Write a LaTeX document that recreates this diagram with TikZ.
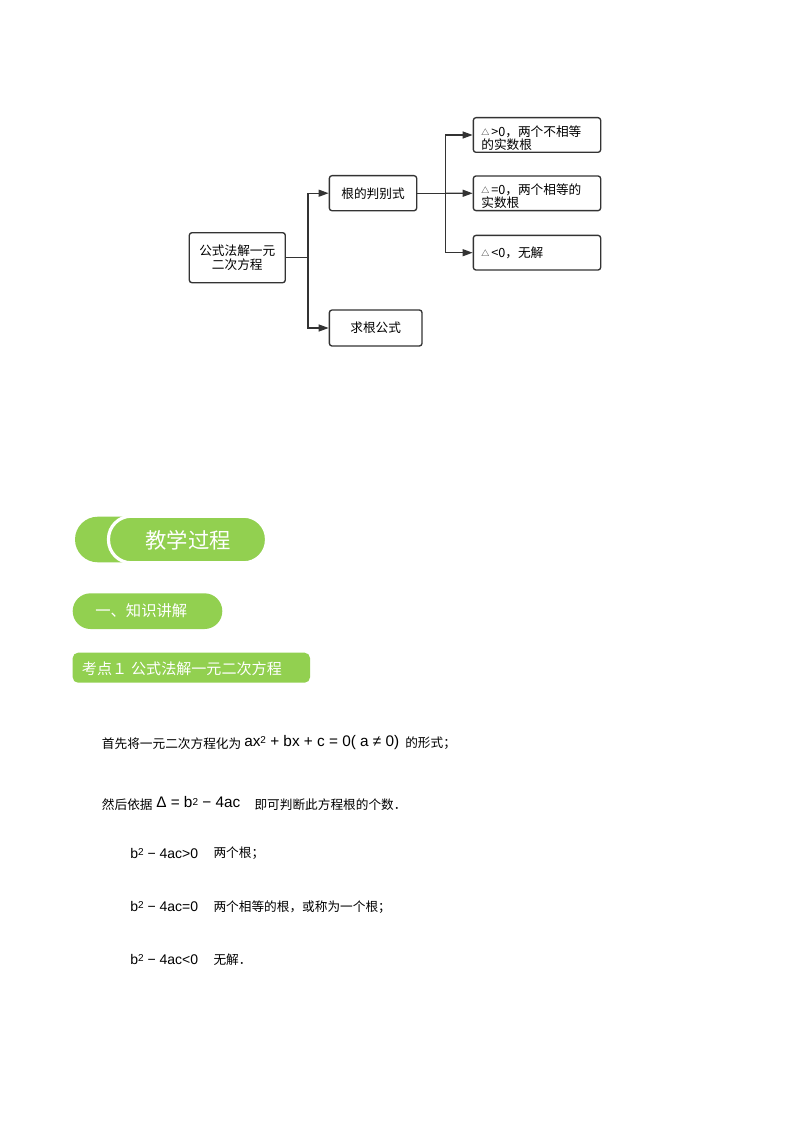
\documentclass[tikz,border=0pt]{standalone}
\usepackage{fontspec}
\setmainfont{Noto Sans CJK SC}
\newfontfamily\cjk{Noto Sans CJK SC}
\newfontfamily\lat{Liberation Sans}
\usetikzlibrary{arrows.meta,calc}
\definecolor{grn}{HTML}{92D050}
\definecolor{edge}{HTML}{333333}
\newcommand\tri{{\fontsize{6}{6}\selectfont\raisebox{0.8pt}{△}}\hspace{1.5pt}}
\newcommand\sq{\raisebox{2.2pt}{\fontsize{7.5}{8}\selectfont 2}}
\tikzset{
  box/.style={draw=edge,line width=1pt,rounded corners=2pt,fill=white,inner sep=0pt,
    font=\cjk\fontsize{9.5}{11}\selectfont,align=center},
  dbox/.style={box,text width=83.5pt,inner xsep=6pt,align=left,minimum width=95.5pt,minimum height=26pt,
    font=\cjk\fontsize{9.5}{10}\selectfont},
  conn/.style={draw=edge,line width=1pt,-{Triangle[length=7.5pt,width=5.2pt]}},
  line/.style={draw=edge,line width=1pt},
  body/.style={anchor=west,inner sep=0pt,font=\cjk\fontsize{9.5}{11}\selectfont},
  mth/.style={anchor=west,inner sep=0pt,font=\lat\fontsize{10.5}{11}\selectfont},
  pilltxt/.style={text=white,inner sep=0pt}
}
\begin{document}
\begin{tikzpicture}[x=0.75pt,y=-0.75pt]
\useasboundingbox (0,0) rectangle (794,1123);
\fill[white] (0,0) rectangle (794,1123);

% flowchart
\node[box,minimum width=72pt,minimum height=37.5pt] (root) at (237.3,257.7) {公式法解一元\\二次方程};
\node[box,minimum width=65.5pt,minimum height=26.3pt] (pb) at (373,193.2) {根的判别式};
\node[box,minimum width=69.5pt,minimum height=27pt] (qg) at (375.7,328) {求根公式};
\node[dbox] (d1) at (537,135) {\rule{0pt}{12.5pt}\tri{}>0，两个不相等\\的实数根};
\node[dbox] (d2) at (537,193.3) {\rule{0pt}{12.5pt}\tri{}=0，两个相等的\\实数根};
\node[dbox] (d3) at (537,252.7) {\tri{}<0，无解};

\coordinate (j1) at ($(root.east)+(22,0)$);
\coordinate (j2) at ($(pb.east)+(28.3,0)$);
\draw[line] (root.east) -- (j1);
\draw[conn] (j1) |- (pb.west);
\draw[conn] (j1) |- (qg.west);
\draw[line] (pb.east) -- (j2);
\draw[conn] (j2) |- (d1.west);
\draw[conn] (j2) -- (d2.west);
\draw[conn] (j2) |- (d3.west);

% teaching process pills
\fill[grn,rounded corners=22.8*0.75pt] (75,516.7) rectangle (150,562.3);
\draw[white,line width=2.4pt,fill=grn,rounded corners=22.8*0.75pt] (108.5,516.2) rectangle (266.5,562.8);
\node[pilltxt,font=\cjk\fontsize{16}{18}\selectfont] (jx) at (188.3,540) {教学过程};

\fill[grn,rounded corners=17.8*0.75pt] (72.7,593.3) rectangle (222.3,629);
\node[pilltxt,anchor=west,font=\cjk\fontsize{11.5}{13}\selectfont] (zs) at (95,611) {一、知识讲解};

\fill[grn,rounded corners=4pt] (72.7,652.7) rectangle (310,682.7);
\node[pilltxt,anchor=west,font=\cjk\fontsize{11.3}{13}\selectfont] (kd) at (81.7,668.3) {考点１\hspace{3pt}公式法解一元二次方程};

% body text
\node[body] (l1a) at (101.7,743.3) {首先将一元二次方程化为};
\node[mth,font=\lat\fontsize{11.5}{13}\selectfont] (l1b) at (244,742.5) {ax\sq{} + bx + c = 0( a ≠ 0)};
\node[body] (l1c) at (405,743.3) {的形式；};

\node[body] (l2a) at (101.7,804.5) {然后依据};
\node[mth,font=\lat\fontsize{11.5}{13}\selectfont] (l2b) at (156,802.5) {Δ = b\sq{} − 4ac};
\node[body] (l2c) at (254.3,804.5) {即可判断此方程根的个数．};

\node[mth] (l3a) at (130,853) {b\sq{} − 4ac>0};
\node[body] (l3b) at (213.3,853.3) {两个根；};

\node[mth] (l4a) at (130,906.4) {b\sq{} − 4ac=0};
\node[body] (l4b) at (213.3,906.7) {两个相等的根，或称为一个根；};

\node[mth] (l5a) at (130,959.7) {b\sq{} − 4ac<0};
\node[body] (l5b) at (213.3,960) {无解．};
\end{tikzpicture}
\end{document}
